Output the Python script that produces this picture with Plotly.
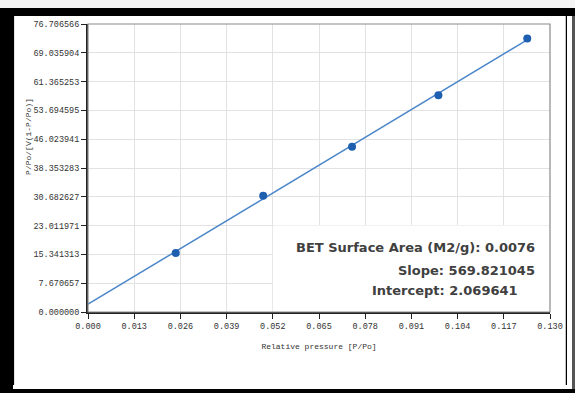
import plotly.graph_objects as go

# ---- data ----
rel_pressure = [0.0247, 0.0493, 0.0743, 0.0986, 0.1236]
bet_y = [15.71, 30.95, 43.98, 57.70, 72.85]
slope = 569.821045
intercept = 2.069641
surface_area = 0.0076

x_ticks = [0.000, 0.013, 0.026, 0.039, 0.052, 0.065, 0.078, 0.091, 0.104, 0.117, 0.130]
x_ticklabels = ["0.000", "0.013", "0.026", "0.039", "0.052", "0.065", "0.078",
                "0.091", "0.104", "0.117", "0.130"]
y_ticks = [0.0, 7.670657, 15.341313, 23.011971, 30.682627, 38.353283, 46.023941,
           53.694595, 61.365253, 69.035904, 76.706566]
y_ticklabels = ["0.000000", "7.670657", "15.341313", "23.011971", "30.682627",
                "38.353283", "46.023941", "53.694595", "61.365253", "69.035904",
                "76.706566"]

# fitted line from slope / intercept
fit_x = [0.0, max(rel_pressure)]
fit_y = [slope * v + intercept for v in fit_x]

# page offset from the default 8px body margin
OFF = 8
W, H = 575 - OFF, 393 - 2 * OFF
# plot area in page pixels: x 88..557, y 24..312
L, R, T, B = 88 - OFF, 575 - 557, 24 - OFF, (H + OFF) - 312
pw, ph = W - L - R, H - T - B


def px(xp):  # page pixel -> paper x
    return (xp - OFF - L) / pw


def py(yp):  # page pixel -> paper y
    return (H - B - (yp - OFF)) / ph


mono = "Liberation Mono"
bold = dict(family="DejaVu Sans", size=13, color="#404040", weight="bold")

fig = go.Figure()
fig.add_trace(go.Scatter(x=fit_x, y=fit_y, mode="lines",
                         line=dict(color="#4a86c8", width=1.5),
                         showlegend=False, hoverinfo="skip"))
fig.add_trace(go.Scatter(x=rel_pressure, y=bet_y, mode="markers",
                         marker=dict(color="#1f5fb0", size=8),
                         showlegend=False))

shapes = [
    dict(type="rect", xref="paper", yref="paper", layer="below",
         x0=px(13), x1=px(573), y0=py(389), y1=py(16),
         fillcolor="white", line=dict(width=0)),
    dict(type="rect", xref="x", yref="y", layer="between",
         x0=x_ticks[4], x1=x_ticks[-1], y0=y_ticks[0], y1=y_ticks[3],
         fillcolor="white", line=dict(width=0)),
    dict(type="rect", xref="paper", yref="paper", layer="above",
         x0=0, x1=1, y0=0, y1=1, line=dict(color="#8a8a8a", width=1.2)),
]

annotations = [
    dict(text="BET Surface Area (M2/g): %s" % surface_area, xref="paper", yref="paper",
         x=px(544), y=py(247), xanchor="right", yanchor="middle", showarrow=False,
         font=bold),
    dict(text="Slope: %.6f" % slope, xref="paper", yref="paper",
         x=px(544), y=py(270), xanchor="right", yanchor="middle", showarrow=False,
         font=bold),
    dict(text="Intercept: %.6f" % intercept, xref="paper", yref="paper",
         x=px(527), y=py(290), xanchor="right", yanchor="middle", showarrow=False,
         font=bold),
    dict(text="P/Po/[V(1-P/Po)]", xref="paper", yref="paper", textangle=-90,
         x=px(28), y=py(136), xanchor="center", yanchor="middle", showarrow=False,
         font=dict(family=mono, size=8, color="#333333")),
]

fig.update_layout(
    width=W, height=H,
    margin=dict(l=L, r=R, t=T, b=B),
    paper_bgcolor="black",
    plot_bgcolor="white",
    shapes=shapes,
    annotations=annotations,
    xaxis=dict(range=[x_ticks[0], x_ticks[-1]], tickvals=x_ticks, ticktext=x_ticklabels,
               showgrid=True, gridcolor="#e2e2e2", gridwidth=1, zeroline=False,
               showline=True, linecolor="#222222", linewidth=1.5,
               ticks="outside", ticklen=5, tickcolor="#222222", tickwidth=1,
               tickfont=dict(family=mono, size=8.5, color="#333333"),
               title=dict(text="Relative pressure [P/Po]", standoff=12,
                          font=dict(family=mono, size=8, color="#333333"))),
    yaxis=dict(range=[y_ticks[0], y_ticks[-1]], tickvals=y_ticks, ticktext=y_ticklabels,
               showgrid=True, gridcolor="#e2e2e2", gridwidth=1, zeroline=False,
               showline=True, linecolor="#222222", linewidth=2,
               ticks="outside", ticklen=5, tickcolor="#222222", tickwidth=1,
               tickfont=dict(family=mono, size=8.5, color="#333333")),
)

page_bg = ("linear-gradient(to bottom, #f4f4f4 0px, #f4f4f4 8px, transparent 8px),"
           "linear-gradient(to bottom, transparent 8px, black 8px, black 16px, transparent 16px,"
           " transparent 389px, black 389px),"
           "linear-gradient(to right, black 0px, black 13px, white 13px, white 572px, #555 572px)")

fig.write_html(
    "out.html",
    config={"displayModeBar": False},
    post_script=("document.documentElement.style.background=\"%s\";"
                 "document.body.style.background='transparent';" % page_bg),
)
